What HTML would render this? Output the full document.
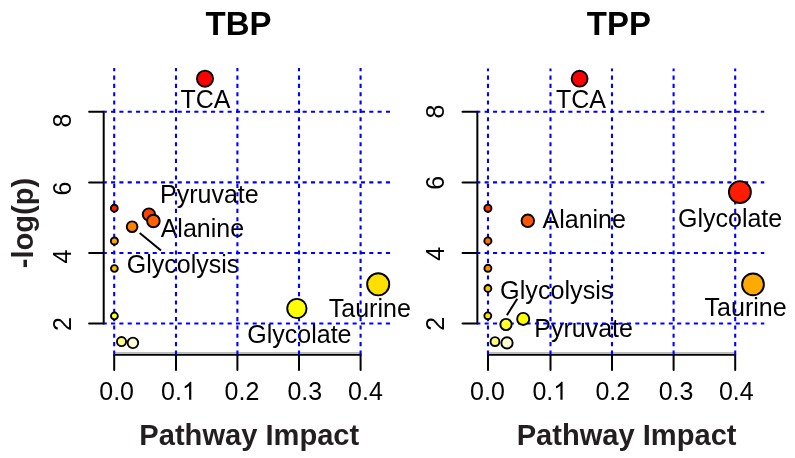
<!DOCTYPE html><html><head><meta charset="utf-8"><title>plot</title><style>html,body{margin:0;padding:0;background:#fff;overflow:hidden;}svg{display:block;}text{font-family:"Liberation Sans",sans-serif;}.t{will-change:transform;}</style></head><body>
<svg width="795" height="458" viewBox="0 0 795 458">
<defs>
<clipPath id="cL"><rect x="104.0" y="68.4" width="286.50" height="287.10"/></clipPath>
<clipPath id="cR"><rect x="477.5" y="68.4" width="287.00" height="287.10"/></clipPath>
</defs>
<rect width="795" height="458" fill="#fff"/>
<line x1="103.70" y1="111.80" x2="103.70" y2="323.50" stroke="#000" stroke-width="2" stroke-linecap="round"/>
<line x1="89.10" y1="111.80" x2="103.70" y2="111.80" stroke="#000" stroke-width="2" stroke-linecap="round"/>
<line x1="89.10" y1="182.40" x2="103.70" y2="182.40" stroke="#000" stroke-width="2" stroke-linecap="round"/>
<line x1="89.10" y1="253.00" x2="103.70" y2="253.00" stroke="#000" stroke-width="2" stroke-linecap="round"/>
<line x1="89.10" y1="323.50" x2="103.70" y2="323.50" stroke="#000" stroke-width="2" stroke-linecap="round"/>
<line x1="114.20" y1="354.80" x2="360.60" y2="354.80" stroke="#000" stroke-width="2" stroke-linecap="round"/>
<line x1="114.20" y1="352.80" x2="360.60" y2="352.80" stroke="#bdbdbd" stroke-width="1.6" stroke-linecap="butt"/>
<line x1="114.20" y1="354.80" x2="114.20" y2="370.00" stroke="#000" stroke-width="2" stroke-linecap="round"/>
<line x1="176.00" y1="354.80" x2="176.00" y2="370.00" stroke="#000" stroke-width="2" stroke-linecap="round"/>
<line x1="237.40" y1="354.80" x2="237.40" y2="370.00" stroke="#000" stroke-width="2" stroke-linecap="round"/>
<line x1="299.00" y1="354.80" x2="299.00" y2="370.00" stroke="#000" stroke-width="2" stroke-linecap="round"/>
<line x1="360.60" y1="354.80" x2="360.60" y2="370.00" stroke="#000" stroke-width="2" stroke-linecap="round"/>
<line x1="477.35" y1="111.80" x2="477.35" y2="323.50" stroke="#000" stroke-width="2" stroke-linecap="round"/>
<line x1="462.50" y1="111.80" x2="477.35" y2="111.80" stroke="#000" stroke-width="2" stroke-linecap="round"/>
<line x1="462.50" y1="182.40" x2="477.35" y2="182.40" stroke="#000" stroke-width="2" stroke-linecap="round"/>
<line x1="462.50" y1="253.00" x2="477.35" y2="253.00" stroke="#000" stroke-width="2" stroke-linecap="round"/>
<line x1="462.50" y1="323.50" x2="477.35" y2="323.50" stroke="#000" stroke-width="2" stroke-linecap="round"/>
<line x1="488.00" y1="354.80" x2="735.20" y2="354.80" stroke="#000" stroke-width="2" stroke-linecap="round"/>
<line x1="488.00" y1="352.80" x2="735.20" y2="352.80" stroke="#bdbdbd" stroke-width="1.6" stroke-linecap="butt"/>
<line x1="488.00" y1="354.80" x2="488.00" y2="370.00" stroke="#000" stroke-width="2" stroke-linecap="round"/>
<line x1="550.50" y1="354.80" x2="550.50" y2="370.00" stroke="#000" stroke-width="2" stroke-linecap="round"/>
<line x1="612.00" y1="354.80" x2="612.00" y2="370.00" stroke="#000" stroke-width="2" stroke-linecap="round"/>
<line x1="673.60" y1="354.80" x2="673.60" y2="370.00" stroke="#000" stroke-width="2" stroke-linecap="round"/>
<line x1="735.20" y1="354.80" x2="735.20" y2="370.00" stroke="#000" stroke-width="2" stroke-linecap="round"/>
<line x1="139.70" y1="232.90" x2="161.00" y2="250.60" stroke="#000" stroke-width="2" stroke-linecap="butt"/>
<line x1="506.90" y1="315.20" x2="517.30" y2="298.80" stroke="#000" stroke-width="2" stroke-linecap="butt"/>
<g opacity="0.999">
<text id="tbp" transform="translate(238.50 35.30) scale(1 1.035)" font-size="33" font-weight="bold" text-anchor="middle" fill="#000">TBP</text>
<text id="tpp" transform="translate(618.90 35.30) scale(1 1.035)" font-size="33" font-weight="bold" text-anchor="middle" fill="#000">TPP</text>
<text id="ylab" transform="translate(33.20 223.00) rotate(-90)" font-size="29.1" font-weight="bold" text-anchor="middle" fill="#231f20">-log(p)</text>
<text id="xlabL" x="249.30" y="444.80" font-size="29.1" font-weight="bold" text-anchor="middle" fill="#231f20">Pathway Impact</text>
<text id="xlabR" x="626.60" y="444.80" font-size="29.1" font-weight="bold" text-anchor="middle" fill="#231f20">Pathway Impact</text>
<text id="xtL0" transform="translate(116.60 399.70) scale(1 1.025)" font-size="25" text-anchor="middle" fill="#000">0.0</text>
<text id="xtL1" transform="translate(161.12 399.70) scale(1 1.025)" font-size="25" fill="#000">0.</text>
<path id="xtL1o" transform="translate(181.973 399.70) scale(0.012207 -0.012207)" d="M763 0L583 0L583 1147Q518 1085 412 1023Q307 961 223 930L223 1104Q374 1175 487 1276Q600 1377 647 1472L763 1472Z" fill="#000"/>
<text id="xtL2" transform="translate(241.90 399.70) scale(1 1.025)" font-size="25" text-anchor="middle" fill="#000">0.2</text>
<text id="xtL3" transform="translate(304.80 399.70) scale(1 1.025)" font-size="25" text-anchor="middle" fill="#000">0.3</text>
<text id="xtL4" transform="translate(365.40 399.70) scale(1 1.025)" font-size="25" text-anchor="middle" fill="#000">0.4</text>
<text id="xtR0" transform="translate(487.40 399.70) scale(1 1.025)" font-size="25" text-anchor="middle" fill="#000">0.0</text>
<text id="xtR1" transform="translate(532.42 399.70) scale(1 1.025)" font-size="25" fill="#000">0.</text>
<path id="xtR1o" transform="translate(553.273 399.70) scale(0.012207 -0.012207)" d="M763 0L583 0L583 1147Q518 1085 412 1023Q307 961 223 930L223 1104Q374 1175 487 1276Q600 1377 647 1472L763 1472Z" fill="#000"/>
<text id="xtR2" transform="translate(612.80 399.70) scale(1 1.025)" font-size="25" text-anchor="middle" fill="#000">0.2</text>
<text id="xtR3" transform="translate(676.00 399.70) scale(1 1.025)" font-size="25" text-anchor="middle" fill="#000">0.3</text>
<text id="xtR4" transform="translate(736.30 399.70) scale(1 1.025)" font-size="25" text-anchor="middle" fill="#000">0.4</text>
<text id="ytL8" transform="translate(70.60 120.60) rotate(-90) scale(1 1.025)" font-size="25" text-anchor="middle" fill="#000">8</text>
<text id="ytL6" transform="translate(70.60 188.60) rotate(-90) scale(1 1.025)" font-size="25" text-anchor="middle" fill="#000">6</text>
<text id="ytL4" transform="translate(70.60 256.60) rotate(-90) scale(1 1.025)" font-size="25" text-anchor="middle" fill="#000">4</text>
<text id="ytL2" transform="translate(70.60 324.00) rotate(-90) scale(1 1.025)" font-size="25" text-anchor="middle" fill="#000">2</text>
<text id="ytR8" transform="translate(443.60 111.50) rotate(-90) scale(1 1.025)" font-size="25" text-anchor="middle" fill="#000">8</text>
<text id="ytR6" transform="translate(443.60 182.70) rotate(-90) scale(1 1.025)" font-size="25" text-anchor="middle" fill="#000">6</text>
<text id="ytR4" transform="translate(443.60 253.70) rotate(-90) scale(1 1.025)" font-size="25" text-anchor="middle" fill="#000">4</text>
<text id="ytR2" transform="translate(443.60 323.80) rotate(-90) scale(1 1.025)" font-size="25" text-anchor="middle" fill="#000">2</text>
<text id="lTCA" transform="translate(205.50 107.60) scale(1 1.035)" font-size="25" text-anchor="middle" fill="#000">TCA</text>
<text id="lPyr" x="160.00" y="202.90" font-size="25" fill="#000">Pyruvate</text>
<text id="lAla" x="160.70" y="236.50" font-size="25" fill="#000">Alanine</text>
<text id="lGly" x="126.80" y="273.10" font-size="25" fill="#000">Glycolysis</text>
<text id="lTau" x="328.80" y="317.10" font-size="25" fill="#000">Taurine</text>
<text id="lGlc" x="247.30" y="342.80" font-size="25" fill="#000">Glycolate</text>
<text id="rTCA" transform="translate(581.00 107.60) scale(1 1.035)" font-size="25" text-anchor="middle" fill="#000">TCA</text>
<text id="rAla" x="542.50" y="227.60" font-size="25" fill="#000">Alanine</text>
<text id="rGlc" x="678.00" y="226.70" font-size="25" fill="#000">Glycolate</text>
<text id="rTau" x="704.60" y="315.70" font-size="25" fill="#000">Taurine</text>
<text id="rGly" x="500.10" y="299.00" font-size="25.2" fill="#000">Glycolysis</text>
<text id="rPyr" x="534.30" y="337.40" font-size="25" fill="#000">Pyruvate</text>
</g>
<g clip-path="url(#cL)" stroke="#0000ff" stroke-width="2.1" stroke-linecap="butt" fill="none">
<line x1="114.20" y1="67.20" x2="114.20" y2="355.50" stroke-dasharray="4.1 4.23"/>
<line x1="176.00" y1="67.20" x2="176.00" y2="355.50" stroke-dasharray="4.1 4.23"/>
<line x1="237.40" y1="67.20" x2="237.40" y2="355.50" stroke-dasharray="4.1 4.23"/>
<line x1="299.00" y1="67.20" x2="299.00" y2="355.50" stroke-dasharray="4.1 4.23"/>
<line x1="360.60" y1="67.20" x2="360.60" y2="355.50" stroke-dasharray="4.1 4.23"/>
<line x1="102.70" y1="111.80" x2="390.50" y2="111.80" stroke-dasharray="4.1 4.23"/>
<line x1="102.70" y1="182.40" x2="390.50" y2="182.40" stroke-dasharray="4.1 4.23"/>
<line x1="102.70" y1="253.00" x2="390.50" y2="253.00" stroke-dasharray="4.1 4.23"/>
<line x1="102.70" y1="323.50" x2="390.50" y2="323.50" stroke-dasharray="4.1 4.23"/>
</g>
<g clip-path="url(#cR)" stroke="#0000ff" stroke-width="2.1" stroke-linecap="butt" fill="none">
<line x1="488.00" y1="67.20" x2="488.00" y2="355.50" stroke-dasharray="4.1 4.23"/>
<line x1="550.50" y1="67.20" x2="550.50" y2="355.50" stroke-dasharray="4.1 4.23"/>
<line x1="612.00" y1="67.20" x2="612.00" y2="355.50" stroke-dasharray="4.1 4.23"/>
<line x1="673.60" y1="67.20" x2="673.60" y2="355.50" stroke-dasharray="4.1 4.23"/>
<line x1="735.20" y1="67.20" x2="735.20" y2="355.50" stroke-dasharray="4.1 4.23"/>
<line x1="476.25" y1="111.80" x2="764.50" y2="111.80" stroke-dasharray="4.1 4.27"/>
<line x1="476.25" y1="182.40" x2="764.50" y2="182.40" stroke-dasharray="4.1 4.27"/>
<line x1="476.25" y1="253.00" x2="764.50" y2="253.00" stroke-dasharray="4.1 4.27"/>
<line x1="476.25" y1="323.50" x2="764.50" y2="323.50" stroke-dasharray="4.1 4.27"/>
</g>
<g stroke="#000" stroke-width="1.9">
<circle cx="205.00" cy="78.70" r="8.05" fill="#FF0000"/>
<circle cx="114.30" cy="208.20" r="3.45" fill="#FF2000"/>
<circle cx="148.90" cy="214.50" r="6.15" fill="#FF4000"/>
<circle cx="153.40" cy="221.00" r="6.30" fill="#FF6000"/>
<circle cx="132.10" cy="226.70" r="5.35" fill="#FF8000"/>
<circle cx="114.40" cy="241.00" r="3.55" fill="#FF9F00"/>
<circle cx="114.40" cy="268.50" r="3.40" fill="#FFBF00"/>
<circle cx="378.20" cy="284.30" r="11.05" fill="#FFDF00"/>
<circle cx="296.90" cy="308.50" r="9.65" fill="#FFFF00"/>
<circle cx="114.40" cy="316.00" r="3.45" fill="#FFFF2A"/>
<circle cx="121.50" cy="341.60" r="4.55" fill="#FFFF80"/>
<circle cx="132.90" cy="342.90" r="5.25" fill="#FFFFD5"/>
<circle cx="579.60" cy="78.70" r="7.95" fill="#FF0000"/>
<circle cx="739.90" cy="192.10" r="11.00" fill="#FF1C00"/>
<circle cx="487.90" cy="208.20" r="3.55" fill="#FF3800"/>
<circle cx="527.80" cy="220.80" r="6.25" fill="#FF5500"/>
<circle cx="487.90" cy="240.90" r="3.55" fill="#FF7100"/>
<circle cx="487.90" cy="268.30" r="3.50" fill="#FF8E00"/>
<circle cx="753.00" cy="284.40" r="10.90" fill="#FFAA00"/>
<circle cx="487.90" cy="288.40" r="3.45" fill="#FFC600"/>
<circle cx="487.80" cy="315.80" r="3.45" fill="#FFE300"/>
<circle cx="523.20" cy="318.90" r="6.05" fill="#FFFF00"/>
<circle cx="506.00" cy="324.50" r="5.65" fill="#FFFF2A"/>
<circle cx="495.00" cy="341.60" r="4.45" fill="#FFFF80"/>
<circle cx="507.00" cy="342.90" r="5.65" fill="#FFFFD5"/>
</g>
</svg></body></html>
